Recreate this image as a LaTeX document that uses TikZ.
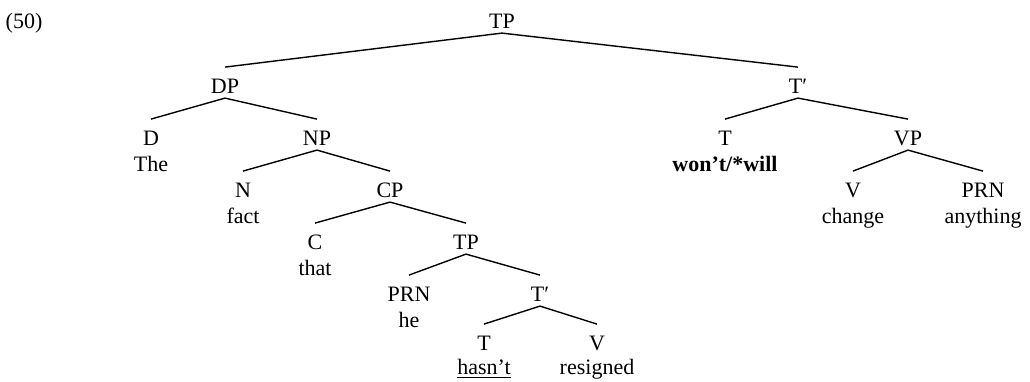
\documentclass[tikz,border=0pt]{standalone}
\usepackage{fontspec}
\setmainfont{Liberation Serif}
\usetikzlibrary{positioning}

\begin{document}
\begin{tikzpicture}[x=0.5pt,y=-0.5pt,line width=0.7pt,
    cat/.style={inner sep=0pt,anchor=base,text height=12.6pt,text depth=2.2pt,
                font=\fontsize{11pt}{13pt}\selectfont},
    word/.style={inner sep=0pt,text height=7.5pt,text depth=2pt,
                 font=\fontsize{11pt}{13pt}\selectfont}]
    \useasboundingbox (0,0) rectangle (1030,381);
    \node[anchor=base west,inner sep=0pt,font=\fontsize{11pt}{13pt}\selectfont] (ex) at (5,28) {(50)};
    \node[cat] (tp) at (502,28) {TP};
    \node[cat] (dp) at (225,93) {DP};
    \node[cat] (tbar) at (798,93) {T′};
    \node[cat] (d) at (151,145) {D};
    \node[word] (the) [below=2.8pt of d] {The};
    \node[cat] (np) at (317,145) {NP};
    \node[cat] (t) at (725,145) {T};
    \node[word] (wont) [below=2.8pt of t] {\textbf{won’t/*will}};
    \node[cat] (vp) at (908,145) {VP};
    \node[cat] (n) at (243,197) {N};
    \node[word] (fact) [below=2.8pt of n] {fact};
    \node[cat] (cp) at (390,197) {CP};
    \node[cat] (v) at (853,197) {V};
    \node[word] (change) [below=2.8pt of v] {change};
    \node[cat] (prn) at (983,197) {PRN};
    \node[word] (anything) [below=2.8pt of prn] {anything};
    \node[cat] (c) at (315,249) {C};
    \node[word] (that) [below=2.8pt of c] {that};
    \node[cat] (tplow) at (466,249) {TP};
    \node[cat] (prnlow) at (409,301) {PRN};
    \node[word] (he) [below=2.8pt of prnlow] {he};
    \node[cat] (tbarlow) at (540,301) {T′};
    \node[cat] (tlow) at (484,350) {T};
    \node[word] (hasnt) [below=2pt of tlow] {\underline{hasn’t}};
    \node[cat] (vlow) at (597,350) {V};
    \node[word] (resigned) [below=2pt of vlow] {resigned};
    \draw (tp.south)
        edge (dp.north) edge (tbar.north);
    \draw (dp.south)
        edge (d.north) edge (np.north);
    \draw (np.south)
        edge (n.north) edge (cp.north);
    \draw (cp.south)
        edge (c.north) edge (tplow.north);
    \draw (tplow.south)
        edge (prnlow.north) edge (tbarlow.north);
    \draw (tbarlow.south)
        edge (tlow.north) edge (vlow.north);
    \draw (tbar.south)
        edge (t.north) edge (vp.north);
    \draw (vp.south)
        edge (v.north) edge (prn.north);
\end{tikzpicture}
\end{document}
